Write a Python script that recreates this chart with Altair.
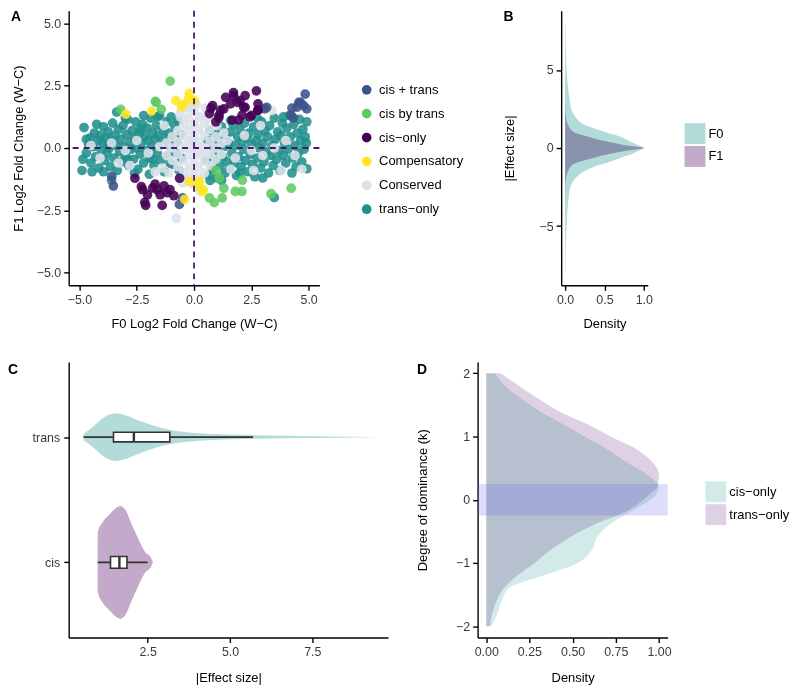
import altair as alt
import pandas as pd

FONT = "Liberation Sans"

# ---------------- Panel A: scatter ----------------
A_cats = ["cis + trans", "cis by trans", "cis\u2212only", "Compensatory", "Conserved", "trans\u2212only"]
A_colors = ["#3b528b", "#5ec962", "#440154", "#fde725", "#dce1e9", "#21908c"]

cis_trans_x = [4.85, 4.64, 4.5, 4.27, 4.33, 4.78, 4.92, 3.08, 4.57, 4.23, 3.17, -3.59, -3.52, -0.64, -0.5]
cis_trans_y = [2.16, 1.83, 1.64, 1.6, 1.21, 1.7, 1.57, 1.57, 1.83, 1.32, 1.63, -1.13, -1.52, -2.26, -2.0]

cis_by_trans_x = [-1.04, -3.2, -1.65, -1.43, -1.69, 0.67, 0.88, 1.23, 1.3, 1.8, 2.09, 2.11, 3.36, 4.24, 0.95, 1.1]
cis_by_trans_y = [2.68, 1.55, 1.83, 1.55, 1.87, -2.0, -2.19, -2.0, -1.61, -1.74, -1.74, -1.29, -1.83, -1.61, -0.9, -1.2]

cis_only_x = [0.81, 0.67, 1.09, 1.3, 1.38, 1.73, 1.59, 2.01, 2.16, 2.51, 2.72, 2.79, 2.79, 1.66, 0.95, 1.94,
              1.72, 2.23, 1.89, 0.74, 1.16, 2.1, 2.44, 2.78, 1.08, 2.23, -2.58, -2.24, -2.03, -2.15, -2.11,
              -1.6, -1.31, -1.48, -1.18, -0.88, -1.39, -1.05, -0.63, -2.3, -1.8, -1.7]
cis_only_y = [1.7, 1.38, 1.31, 1.57, 2.03, 2.09, 1.77, 1.9, 1.64, 1.31, 2.29, 1.77, 1.51, 1.12, 1.05, 1.12,
              2.22, 2.1, 1.83, 1.6, 1.52, 1.32, 1.25, 1.52, 1.21, 1.63, -1.21, -1.67, -1.87, -2.18, -2.3,
              -1.67, -1.52, -1.87, -1.79, -1.91, -2.3, -1.67, -1.21, -1.55, -1.6, -1.45]

compensatory_x = [-0.21, -0.8, -0.46, -0.24, 0.0, -0.55, -2.97, -1.86, 0.23, 0.4, 0.18, -0.41, -0.2, 0.38]
compensatory_y = [2.19, 1.9, 1.75, 1.97, 1.9, 1.65, 1.36, 1.48, -1.33, -1.67, -1.52, -2.06, -1.35, -1.74]

conserved_x = [0.0, 0.0, 0.0, 0.0, 0.0, 0.0, -0.05, 0.2, 0.2, 0.2, 0.2, 0.25, 0.25, -0.2, -0.2, -0.2, -0.2,
               -0.25, -0.25, 0.45, 0.45, 0.45, 0.45, 0.45, -0.45, -0.45, -0.45, -0.45, -0.45, 0.7, 0.7, 0.7,
               0.7, -0.7, -0.7, -0.7, -0.7, 0.95, 0.95, 0.95, -0.95, -0.95, -0.95, 1.2, 1.2, -1.2, -1.2, -1.4,
               -1.1, 0.1, -0.1, 0.15, 0.6, -0.6, 1.3, 1.0, -0.78, -3.0, -2.5, -3.6, -4.1, -2.0, -1.7, -2.8,
               -3.3, -4.5, -1.5, 2.5, 3.0, 3.5, 2.2, 1.8, 4.0, 4.4, 3.2, 3.4, 2.6, 3.8, 1.6, 4.7, 2.9, 1.45,
               0.3, -0.3, 0.5, -1.3, -0.5, 0.35, -0.35, 0.1, -0.1, 0.55, -0.6]
conserved_y = [0.0, 0.5, -0.5, 1.0, -1.0, 1.5, -1.45, 0.25, -0.25, 0.75, -0.75, 1.25, -1.2, 0.25, -0.25, 0.75,
               -0.75, 1.2, -1.2, 0.0, 0.5, -0.5, 1.0, -1.0, 0.0, 0.5, -0.5, 0.95, -1.0, 0.25, -0.25, 0.75,
               -0.7, 0.25, -0.25, 0.7, -0.75, 0.0, 0.45, -0.45, 0.0, 0.45, -0.5, 0.2, -0.25, 0.2, -0.3, -0.8,
               -1.0, 1.75, 1.6, -1.6, 1.2, 1.25, 0.6, 0.9, -2.82, -0.1, 0.3, 0.2, -0.4, -0.2, -0.95, -0.7,
               -0.6, 0.1, 0.05, -0.1, -0.3, 0.0, 0.5, -0.4, 0.3, -0.3, 1.6, 1.5, -0.9, -0.9, -0.85, -0.85,
               0.9, 0.3, -1.75, 1.6, 1.6, 0.9, -1.4, 0.0, 0.1, -0.1, 0.3, -0.2, 1.4]

trans_only_x = [-4.89, -4.8, -4.85, -4.7, -4.6, -4.55, -4.5, -4.4, -4.35, -4.3, -4.2, -4.15, -4.1, -4.05, -4.0,
                -3.95, -3.9, -3.85, -3.8, -3.75, -3.7, -3.65, -3.6, -3.55, -3.5, -3.45, -3.4, -3.38, -3.35,
                -3.3, -3.25, -3.2, -3.15, -3.1, -3.05, -3.0, -2.95, -2.9, -2.85, -2.8, -2.75, -2.7, -2.65,
                -2.6, -2.55, -2.5, -2.45, -2.4, -2.35, -2.3, -2.25, -2.2, -2.15, -2.1, -2.05, -2.0, -1.95,
                -1.9, -1.85, -1.8, -1.75, -1.7, -1.65, -1.6, -1.55, -1.5, -1.45, -1.4, -1.35, -1.3, -1.25,
                -1.2, -1.15, -1.1, -1.05, -1.0, -0.95, -0.9, -0.85, -0.8, -0.75, -0.7, -0.65, -0.6, -4.45,
                -3.6, -3.95, -2.6, -1.95, -4.25, -3.0, -2.2, -1.6, -4.7, -3.75, -2.9, -2.35, -1.8, -1.05,
                -0.55,
                0.55, 0.6, 0.65, 0.7, 0.75, 0.8, 0.85, 0.9, 0.95, 1.0, 1.05, 1.1, 1.15, 1.2, 1.25, 1.3, 1.35,
                1.4, 1.45, 1.5, 1.55, 1.6, 1.65, 1.7, 1.75, 1.8, 1.85, 1.9, 1.95, 2.0, 2.05, 2.1, 2.15, 2.2,
                2.25, 2.3, 2.35, 2.4, 2.45, 2.5, 2.55, 2.6, 2.65, 2.7, 2.75, 2.8, 2.85, 2.9, 2.95, 3.0, 3.05,
                3.1, 3.15, 3.2, 3.25, 3.3, 3.35, 3.4, 3.45, 3.5, 3.55, 3.6, 3.65, 3.7, 3.75, 3.8, 3.85, 3.9,
                3.95, 4.0, 4.05, 4.1, 4.15, 4.2, 4.27, 4.3, 4.35, 4.4, 4.45, 4.5, 4.55, 4.6, 4.65, 4.7, 4.75,
                4.8, 4.85, 4.92, 4.92, 4.9, 3.5, 2.0, 1.2, 0.7, 3.0, 3.9, 2.8, 1.6]
trans_only_y = [-0.9, 0.82, -0.45, -0.2, 0.15, 0.4, -0.6, 0.05, 0.6, -0.35, 0.3, -0.8, 0.5, -0.1, 0.2,
                0.85, -0.5, 0.4, -0.2, 0.65, 0.0, -0.75, 0.3, 1.0, -0.4, 0.5, 0.1, 1.44, -0.9,
                0.75, -0.15, 0.35, -0.55, 0.9, 0.05, -0.3, 0.55, 1.15, -0.7, 0.25, -0.05, 0.7, -0.45,
                0.4, 1.05, 0.0, -0.85, 0.6, -0.25, 0.2, 0.95, -0.6, 0.45, -0.1, 0.8, 0.3, -0.4,
                1.2, 0.05, 0.6, -0.7, 0.35, 0.9, -0.2, 0.5, 1.3, -0.5, 0.15, 0.75, -0.95, 0.4,
                1.05, -0.3, 0.6, 0.1, 1.25, -0.65, 0.45, 0.9, -0.2, 0.25, 1.1, -0.9, 0.55, -0.95,
                -1.29, -0.95, -1.0, -1.05, 0.95, 1.2, 1.3, 1.25, 0.35, 0.15, -0.45, 0.75, -0.45, -0.6,
                -0.4,
                -0.5, 0.3, -1.1, 0.7, -0.2, -0.85, 0.15, -0.45, 0.55, -1.2, -0.1, 0.35, -0.7, 0.85, -0.35, 0.05, -1.0,
                0.5, -0.55, 0.2, -0.85, 0.65, -0.2, 0.95, -0.6, 0.1, -1.1, 0.45, -0.35, 0.75, -0.75, 0.25, -0.05, 1.0,
                -0.5, 0.4, -0.95, 0.6, -0.25, 0.15, -0.65, 0.85, -1.15, 0.3, -0.4, 0.55, 0.0, -0.8, 1.05, 0.2, -0.55,
                0.7, -0.15, 0.45, -1.0, 0.9, -0.3, 0.1, -0.7, 1.2, 0.35, -0.45, 0.65, -0.1, -0.9, 0.5, 1.0, -0.3,
                0.2, -0.6, 0.8, -0.05, 1.3, 0.45, -1.0, -0.4, 0.95, 0.1, -0.75, 0.6, -0.2, 1.15, 0.3, -0.55, 0.75,
                -0.05, 0.45, 1.05, -0.83, 0.2, -1.98, -1.0, -1.3, -1.3, -1.2, 1.25, 1.15, 1.1]

zero_line = [0.0]

groups_A = [
    ("trans\u2212only", trans_only_x, trans_only_y),
    ("Conserved", conserved_x, conserved_y),
    ("cis + trans", cis_trans_x, cis_trans_y),
    ("cis by trans", cis_by_trans_x, cis_by_trans_y),
    ("cis\u2212only", cis_only_x, cis_only_y),
    ("Compensatory", compensatory_x, compensatory_y),
]
rows = []
for cat, xs, ys in groups_A:
    for xv, yv in zip(xs, ys):
        rows.append({"x": xv, "y": yv, "cat": cat})
dfA = pd.DataFrame(rows)

# ---------------- Panel B: densities of effect size ----------------
B_y = [-8, -7, -6, -5, -4, -3, -2.5, -2, -1.5, -1.2, -1.0, -0.8, -0.6, -0.4, -0.2, 0,
       0.2, 0.4, 0.6, 0.8, 1.0, 1.2, 1.5, 2, 2.5, 3, 4, 5, 6, 7, 8]
B_F0 = [0.003, 0.006, 0.01, 0.02, 0.03, 0.05, 0.07, 0.12, 0.24, 0.37, 0.5, 0.62, 0.72, 0.84, 0.92, 1.0,
        0.92, 0.83, 0.76, 0.66, 0.53, 0.40, 0.24, 0.13, 0.08, 0.06, 0.035, 0.02, 0.012, 0.008, 0.004]
B_F1 = [0.0, 0.0, 0.0, 0.0, 0.0, 0.002, 0.005, 0.012, 0.035, 0.07, 0.12, 0.24, 0.38, 0.55, 0.74, 1.0,
        0.74, 0.55, 0.38, 0.24, 0.12, 0.07, 0.035, 0.012, 0.005, 0.002, 0.0, 0.0, 0.0, 0.0, 0.0]
dfB = pd.DataFrame(
    [{"y": a, "d": b, "grp": "F0"} for a, b in zip(B_y, B_F0)]
    + [{"y": a, "d": b, "grp": "F1"} for a, b in zip(B_y, B_F1)]
)
TEAL = "#b3dcd9"
PURP = "#c4aaca"

# ---------------- Panel C: violins + boxplots ----------------
C_groups = ["trans", "cis"]
C_pos = [2, 1]
trans_e = [0.55, 0.83, 1.13, 1.52, 1.82, 2.21, 2.71, 3.2, 4.19, 5.17, 6.15, 7.1, 8.1, 9.36]
trans_hw = [0.025, 0.08, 0.15, 0.19, 0.175, 0.135, 0.088, 0.056, 0.028, 0.018, 0.012, 0.008, 0.005, 0.0015]
cis_e = [0.98, 0.985, 1.13, 1.33, 1.52, 1.67, 1.82, 2.02, 2.21, 2.41, 2.61, 2.66]
cis_hw = [0.0, 0.24, 0.32, 0.38, 0.43, 0.45, 0.42, 0.30, 0.19, 0.086, 0.031, 0.0]
box_lo = [0.55, 0.98]
box_q1 = [1.46, 1.37]
box_med = [2.08, 1.64]
box_q3 = [3.17, 1.87]
box_hi = [5.7, 2.5]
box_half = [0.038, 0.047]

vrows = []
for e, h in zip(trans_e, trans_hw):
    vrows.append({"e": e, "lo": 2 - h, "hi": 2 + h, "grp": "trans"})
for e, h in zip(cis_e, cis_hw):
    vrows.append({"e": e, "lo": 1 - h, "hi": 1 + h, "grp": "cis"})
dfC = pd.DataFrame(vrows)
dfBox = pd.DataFrame({
    "grp": C_groups, "pos": C_pos, "lo": box_lo, "q1": box_q1, "med": box_med,
    "q3": box_q3, "hi": box_hi,
    "b0": [p - h for p, h in zip(C_pos, box_half)],
    "b1": [p + h for p, h in zip(C_pos, box_half)],
})

# ---------------- Panel D: densities of dominance ----------------
D_k = [-2, -1.8, -1.6, -1.4, -1.2, -1.0, -0.8, -0.6, -0.4, -0.2, 0, 0.1, 0.2, 0.4, 0.6, 0.8,
       1.0, 1.2, 1.4, 1.6, 1.8, 2]
D_cis = [0.03, 0.065, 0.09, 0.13, 0.33, 0.53, 0.61, 0.64, 0.71, 0.83, 0.95, 0.99, 1.0, 0.93, 0.81, 0.70,
         0.57, 0.44, 0.31, 0.20, 0.11, 0.05]
D_trans = [0.02, 0.035, 0.06, 0.10, 0.18, 0.28, 0.37, 0.48, 0.62, 0.80, 0.91, 0.95, 0.99, 1.0, 0.96, 0.87,
           0.72, 0.58, 0.42, 0.30, 0.19, 0.085]
band_k = [-0.25, 0.25]
dfD = pd.DataFrame(
    [{"k": a, "d": b, "grp": "cis\u2212only"} for a, b in zip(D_k, D_cis)]
    + [{"k": a, "d": b, "grp": "trans\u2212only"} for a, b in zip(D_k, D_trans)]
)
dfBand = pd.DataFrame({"k0": [band_k[0]], "k1": [band_k[1]]})


def letter(t, dx, dy):
    return alt.Chart(pd.DataFrame({"t": [t]})).mark_text(
        align="left", baseline="top", fontSize=14, fontWeight="bold", font=FONT, color="black"
    ).encode(text="t:N", x=alt.value(dx), y=alt.value(dy))


LAB = 12.5
TIT = 13

# ---- A ----
A_w, A_h = 252, 276
xA = alt.X("x:Q", scale=alt.Scale(domain=[-5.47, 5.47], nice=False, zero=False),
           axis=alt.Axis(values=[-5, -2.5, 0, 2.5, 5], format=".1f", title="F0 Log2 Fold Change (W\u2212C)",
                         titlePadding=12))
yA = alt.Y("y:Q", scale=alt.Scale(domain=[-5.5, 5.5], nice=False, zero=False),
           axis=alt.Axis(values=[-5, -2.5, 0, 2.5, 5], format=".1f", title="F1 Log2 Fold Change (W\u2212C)",
                         minExtent=34, maxExtent=34, titlePadding=9))
ptsA = alt.Chart(dfA).mark_circle(size=95, opacity=0.88).encode(
    x=xA, y=yA,
    color=alt.Color("cat:N", scale=alt.Scale(domain=A_cats, range=A_colors),
                    legend=alt.Legend(title=None, orient="none", legendX=293, legendY=73,
                                      symbolType="circle", symbolSize=95, labelFontSize=TIT,
                                      labelFont=FONT, labelColor="black", rowPadding=10, labelOffset=6,
                                      symbolOpacity=1)),
)
vline = alt.Chart(pd.DataFrame({"x": zero_line})).mark_rule(
    color="#4a1a6e", strokeDash=[6, 5], strokeWidth=1.8).encode(x="x:Q")
hline = alt.Chart(pd.DataFrame({"y": zero_line})).mark_rule(
    color="#4a1a6e", strokeDash=[6, 5], strokeWidth=1.8).encode(y="y:Q")
panelA = alt.layer(ptsA, vline, hline, letter("A", -58, -1)).properties(width=A_w, height=A_h)

# ---- B ----
B_w, B_h = 87, 276
areaB = alt.Chart(dfB).mark_area(orient="horizontal", interpolate="monotone", opacity=1,
                                 blend="multiply").encode(
    y=alt.Y("y:Q", scale=alt.Scale(domain=[-8.8, 8.8], nice=False, zero=False),
            axis=alt.Axis(values=[-5, 0, 5], format="d", title="|Effect size|",
                          minExtent=30, maxExtent=30, titlePadding=15)),
    x=alt.X("d:Q", stack=None, scale=alt.Scale(domain=[-0.05, 1.05], nice=False),
            axis=alt.Axis(values=[0, 0.5, 1], format=".1f", title="Density", titlePadding=12)),
    color=alt.Color("grp:N", scale=alt.Scale(domain=["F0", "F1"], range=[TEAL, PURP]),
                    legend=alt.Legend(title=None, orient="none", legendX=124, legendY=113,
                                      symbolType="square", symbolSize=441, symbolStrokeWidth=0,
                                      labelFontSize=TIT, labelFont=FONT, labelColor="black",
                                      rowPadding=2, labelOffset=3, symbolOpacity=1)),
)
panelB = alt.layer(areaB, letter("B", -58, -1)).properties(width=B_w, height=B_h)

# ---- C ----
C_w, C_h = 321, 277
xC = alt.X("e:Q", scale=alt.Scale(domain=[0.1, 9.8], nice=False, zero=False),
           axis=alt.Axis(values=[2.5, 5, 7.5], format=".1f", title="|Effect size|", titlePadding=14))
yC = alt.Y("lo:Q", scale=alt.Scale(domain=[0.4, 2.6], nice=False, zero=False),
           axis=alt.Axis(values=[1, 2], labelExpr="datum.value == 2 ? 'trans' : 'cis'", title=None,
                         labelPadding=4))
violin = alt.Chart(dfC).mark_area(orient="vertical", interpolate="monotone", opacity=1).encode(
    x=xC, y=yC, y2="hi:Q",
    color=alt.Color("grp:N", scale=alt.Scale(domain=["trans", "cis"], range=[TEAL, PURP]), legend=None),
)
whisk = alt.Chart(dfBox).mark_rule(color="#333333", strokeWidth=1.6).encode(
    x=alt.X("lo:Q"), x2="hi:Q", y=alt.Y("pos:Q"))
boxr = alt.Chart(dfBox).mark_rect(fill="white", stroke="#333333", strokeWidth=1.6).encode(
    x="q1:Q", x2="q3:Q", y="b0:Q", y2="b1:Q")
medr = alt.Chart(dfBox).mark_rule(color="#333333", strokeWidth=2.4).encode(
    x="med:Q", y="b0:Q", y2="b1:Q")
panelC = alt.layer(violin, whisk, boxr, medr, letter("C", -61, 1)).properties(width=C_w, height=C_h)

# ---- D ----
D_w, D_h = 191, 277
areaD = alt.Chart(dfD).mark_area(orient="horizontal", interpolate="monotone", opacity=1,
                                 blend="multiply").encode(
    y=alt.Y("k:Q", scale=alt.Scale(domain=[-2.18, 2.18], nice=False, zero=False),
            axis=alt.Axis(values=[-2, -1, 0, 1, 2], format="d", title="Degree of dominance (k)",
                          minExtent=30, maxExtent=30, titlePadding=18)),
    x=alt.X("d:Q", stack=None, scale=alt.Scale(domain=[-0.05, 1.05], nice=False),
            axis=alt.Axis(values=[0, 0.25, 0.5, 0.75, 1], format=".2f", title="Density", titlePadding=14)),
    color=alt.Color("grp:N", scale=alt.Scale(domain=["cis\u2212only", "trans\u2212only"],
                                             range=["#d2ebe8", "#dfd1e4"]),
                    legend=alt.Legend(title=None, orient="none", legendX=229, legendY=120,
                                      symbolType="square", symbolSize=441, symbolStrokeWidth=0,
                                      labelFontSize=TIT, labelFont=FONT, labelColor="black",
                                      rowPadding=2, labelOffset=3, symbolOpacity=1)),
)
band = alt.Chart(dfBand).mark_rect(color="#6666ee", opacity=0.22).encode(
    y="k0:Q", y2="k1:Q", x=alt.value(0), x2=alt.value("width"))
panelD = alt.layer(areaD, band, letter("D", -61, 1)).properties(width=D_w, height=D_h)

row1 = alt.hconcat(panelA, panelB, spacing=40).resolve_scale(color="independent")
row2 = alt.hconcat(panelC, panelD, spacing=29).resolve_scale(color="independent")
chart = alt.vconcat(row1, row2, spacing=31).resolve_scale(color="independent").properties(
    padding=0
).configure_view(stroke=None).configure_axis(
    grid=False, domainColor="black", domainWidth=1.4, tickColor="black", tickWidth=1.4, tickSize=5,
    labelFont=FONT, labelFontSize=LAB, labelColor="#3a3a3a", titleFont=FONT, titleFontSize=TIT,
    titleFontWeight="normal", titleColor="black", labelPadding=3
)

chart.save("out.html", embed_options={"renderer": "svg", "actions": False})
